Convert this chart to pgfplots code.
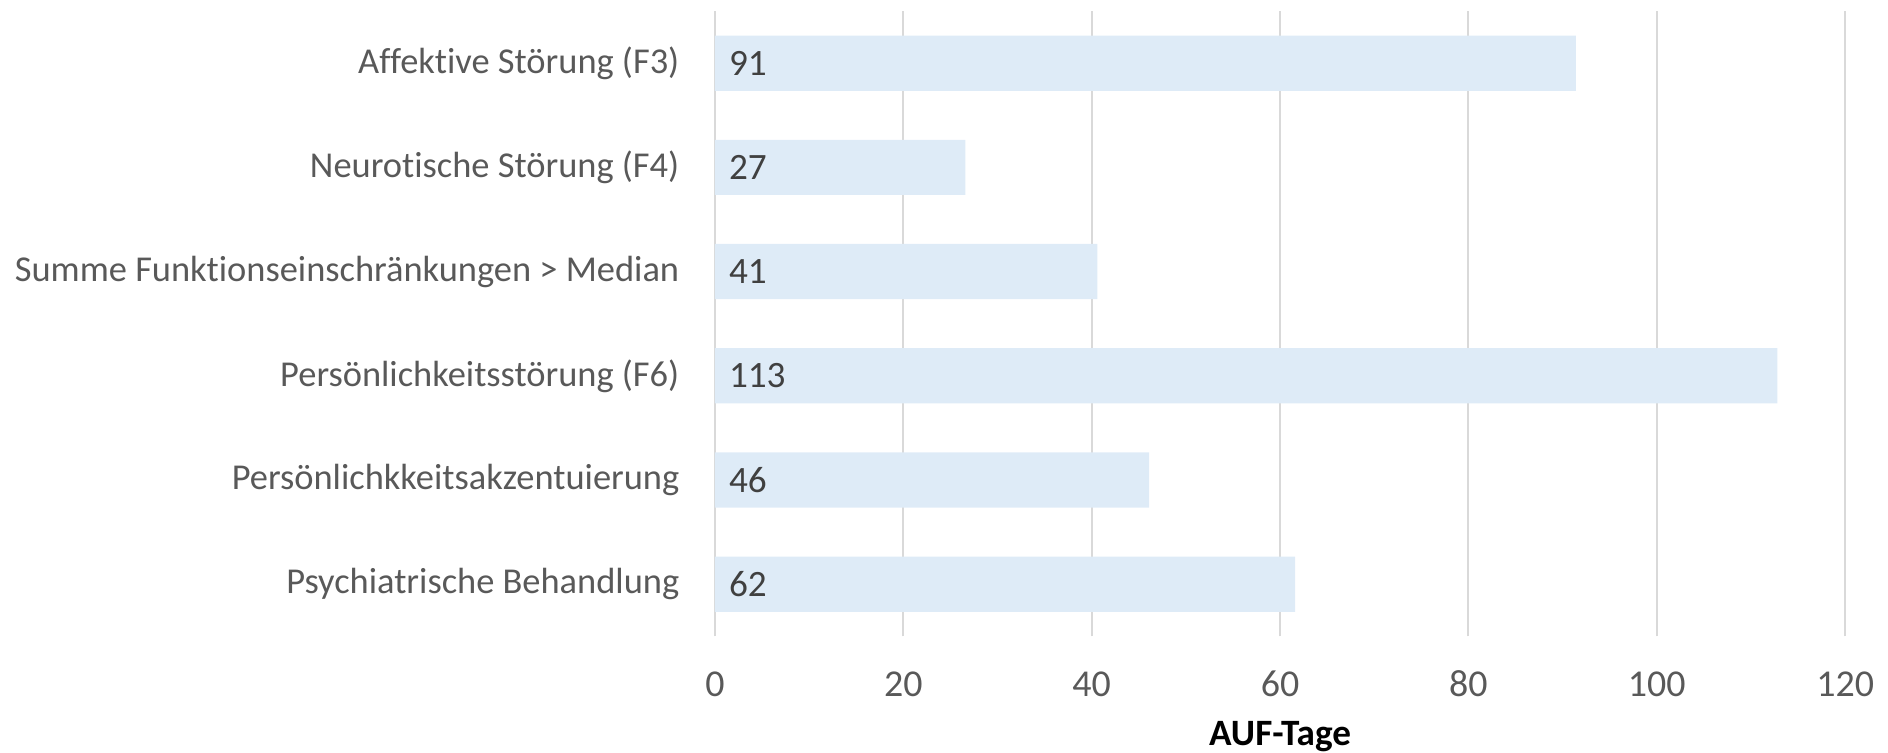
\documentclass[border=0pt]{standalone}
\usepackage{fontspec}
\setmainfont{Carlito}[Ligatures=NoCommon]
\usepackage{pgfplots}
\pgfplotsset{compat=1.18}
\definecolor{barfill}{HTML}{DEEBF7}
\definecolor{gridgray}{HTML}{D9D9D9}
\definecolor{txtgray}{HTML}{595959}
\definecolor{lblgray}{HTML}{404040}

\begin{document}
\begin{tikzpicture}
\useasboundingbox (-188.4pt,-30.6pt) rectangle (309.1pt,167.7pt);
\begin{axis}[
    scale only axis,
    width=297.8pt, height=164.8pt,
    xmin=0, xmax=120,
    ymin=-0.5, ymax=5.5,
    xtick={0,20,...,120},
    ytick={0,...,5},
    yticklabels={Psychiatrische Behandlung,
                 Persönlichkkeitsakzentuierung,
                 Persönlichkeitsstörung (F6),
                 Summe Funktionseinschränkungen > Median,
                 Neurotische Störung (F4),
                 Affektive Störung (F3)},
    axis line style={draw=none},
    tick style={draw=none},
    xmajorgrids=true,
    grid style={gridgray, line width=0.5pt},
    /pgf/number format/assume math mode=true,
    xticklabel style={anchor=base, inner sep=0pt, yshift=-15.9pt,
                      font=\fontsize{10}{12}\selectfont, text=txtgray},
    yticklabel style={anchor=east, inner sep=0pt, xshift=-9.2pt,
                      font=\fontsize{9.6}{12}\selectfont, text=txtgray},
    xlabel={AUF-Tage},
    xlabel style={at={(axis description cs:0.5,0)}, anchor=base,
                  yshift=-28.7pt, font=\fontsize{9.8}{12}\selectfont\bfseries,
                  text=black},
]
% bar lengths
\addplot[xbar, bar width=0.53, draw=none, fill=barfill]
    coordinates {
    (61.6,0)(46.1,1)(112.8,2)(40.6,3)(26.6,4)(91.4,5)
    };
% value labels at the bar base
\addplot[draw=none, mark=none, nodes near coords,
         point meta=explicit symbolic,
         nodes near coords style={anchor=west, inner sep=0pt, xshift=3.5pt,
                                  font=\fontsize{9.8}{12}\selectfont, text=lblgray}]
    coordinates {
    (0,0) [62] (0,1) [46] (0,2) [113] (0,3) [41] (0,4) [27] (0,5) [91]
    };
\end{axis}
\end{tikzpicture}
\end{document}
